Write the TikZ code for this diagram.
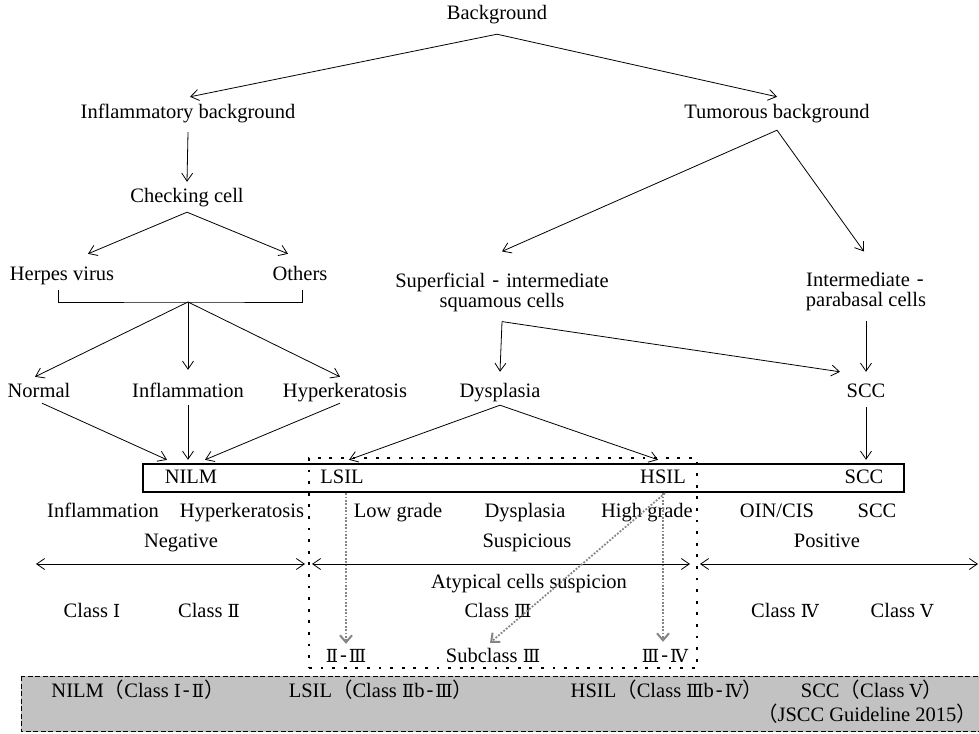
\documentclass[tikz,border=0pt]{standalone}
\usepackage{fontspec}
\setmainfont{Liberation Serif}
\newfontfamily\cjkf{Noto Sans CJK JP}
\newfontfamily\romf{DejaVu Serif}
\usetikzlibrary{arrows.meta,calc}
\newcommand\romI{{\romf\fontsize{18}{20}\selectfont Ⅰ}}
\newcommand\romII{{\romf\fontsize{18}{20}\selectfont Ⅱ}}
\newcommand\romIII{{\romf\fontsize{18}{20}\selectfont Ⅲ}}
\newcommand\romIV{{\romf\fontsize{18}{20}\selectfont Ⅳ}}
\newcommand\romV{{\romf\fontsize{18}{20}\selectfont Ⅴ}}
\newcommand\fwl{{\cjkf （}}
\newcommand\fwr{{\cjkf ）}}
\newcommand\fwd{\kern2pt\raisebox{1pt}{-}\kern2pt}
\begin{document}
\begin{tikzpicture}[x=1pt,y=-1pt,
  font=\fontsize{20.5}{23}\selectfont,
  lbl/.style={inner xsep=1pt, inner ysep=6pt, text height=14pt, text depth=4pt},
  two/.style={inner xsep=1pt, inner ysep=6pt, align=center, font=\fontsize{20.5}{20}\selectfont},
  arr/.style={-{Straight Barb[length=8pt,width=11pt]}, line width=0.8pt},
  darr/.style={{Straight Barb[length=8pt,width=11pt]}-{Straight Barb[length=8pt,width=11pt]}, line width=0.8pt},
  garr/.style={-{Straight Barb[length=7pt,width=12pt,line width=2pt]}, draw=black!48, line width=1.8pt, dash pattern=on 1.8pt off 1.6pt},
  dotbox/.style={draw, line width=2.8pt, dash pattern=on 2.8pt off 8.8pt},
  dashbox/.style={draw, line width=1pt, dash pattern=on 5pt off 2.5pt, fill=black!24},
]
\useasboundingbox (0,0) rectangle (979,733);

% bottom dashed box
\draw[dashbox] (21,676) rectangle (995,731.5);

% dotted box
\node[dotbox, minimum width=388pt, minimum height=210pt, inner sep=0pt] (dbox) at (503,563) {};

% main box
\node[draw, line width=1.2pt, minimum width=761pt, minimum height=28pt, inner sep=0pt] (box) at (523.5,478) {};

% top tree
\node[lbl] (bg) at (497,15) {Background};
\node[lbl] (ib) at (188,113) {Inflammatory background};
\node[lbl] (tb) at (777,113) {Tumorous background};
\node[lbl] (cc) at (187,197) {Checking cell};
\node[lbl] (hv) at (62,275) {Herpes virus};
\node[lbl] (ot) at (300,275) {Others};
\coordinate (jn) at (188,302);
\node[lbl] (nm) at (39,392) {Normal};
\node[lbl] (inf) at (188,392) {Inflammation};
\node[lbl] (hk) at (345,392) {Hyperkeratosis};
\node[two] (sup) at (502,292) {Superficial \fwd{} intermediate\\squamous cells};
\node[two] (int) at (866,292) {Intermediate \fwd\\parabasal cells};
\node[lbl] (dys) at (500,392) {Dysplasia};
\node[lbl] (scc1) at (866,392) {SCC};

% box contents
\node[lbl] (nilm) at (191,478) {NILM};
\node[lbl] (lsil) at (342,478) {LSIL};
\node[lbl] (hsil) at (663,478) {HSIL};
\node[lbl] (scc2) at (864,478) {SCC};

% rows
\node[lbl] (rinf) at (103,512) {Inflammation};
\node[lbl] (rhk) at (242,512) {Hyperkeratosis};
\node[lbl] (rlow) at (398,512) {Low grade};
\node[lbl] (rdys) at (525,512) {Dysplasia};
\node[lbl] (rhigh) at (647,512) {High grade};
\node[lbl] (roin) at (777,512) {OIN/CIS};
\node[lbl] (rscc) at (877,512) {SCC};

\node[lbl] (neg) at (181,542) {Negative};
\node[lbl] (susp) at (527,542) {Suspicious};
\node[lbl] (pos) at (827,542) {Positive};

\coordinate (a1) at (36,564);
\coordinate (a2) at (305,564);
\coordinate (a3) at (312,564);
\coordinate (a4) at (690,564);
\coordinate (a5) at (700,564);
\coordinate (a6) at (978,564);
\draw[darr] (a1) -- (a2);
\draw[darr] (a3) -- (a4);
\draw[darr] (a5) -- (a6);

\node[lbl] (atyp) at (529,583) {Atypical cells suspicion};

\node[lbl] (c1) at (92,612) {Class \romI};
\node[lbl] (c2) at (209,612) {Class \romII};
\node[lbl] (c3) at (498,612) {Class \romIII};
\node[lbl] (c4) at (785,612) {Class \romIV};
\node[lbl] (c5) at (902,612) {Class \romV};

\node[lbl] (s1) at (346,657) {\romII\fwd\romIII};
\node[lbl] (s2) at (493,657) {Subclass \romIII};
\node[lbl] (s3) at (665,657) {\romIII\fwd\romIV};

\node[lbl] (b1) at (138,692) {NILM\fwl Class \romI\fwd\romII\fwr};
\node[lbl] (b2) at (381,692) {LSIL\fwl Class \romII b\fwd\romIII\fwr};
\node[lbl] (b3) at (667,692) {HSIL\fwl Class \romIII b\fwd\romIV\fwr};
\node[lbl] (b4) at (872,692) {SCC\fwl Class \romV\fwr};
\node[lbl] (b5) at (867,716) {\fwl JSCC Guideline 2015\fwr};

% connectors
\draw[arr] ([yshift=-4pt]bg.south) -- ([xshift=2pt,yshift=1pt]ib.north);
\draw[arr] ([yshift=-4pt]bg.south) -- ([yshift=1pt]tb.north);
\draw[arr] ([yshift=-4pt]ib.south) -- (cc.north);
\draw[arr] (cc.south) -- ([xshift=26pt,yshift=6pt]hv.north);
\draw[arr] (cc.south) -- ([xshift=-12pt,yshift=6pt]ot.north);
\draw[line width=0.8pt] ([xshift=-4pt]hv.south) |- (jn) -| ([xshift=2pt]ot.south);
\draw[arr] (jn) -- ([xshift=-4pt]nm.north);
\draw[arr] (jn) -- ([yshift=7pt]inf.north);
\draw[arr] (jn) -- ([xshift=-5pt]hk.north);
\draw[arr] ([xshift=3pt,yshift=4pt]nm.south) -- ([xshift=-24pt,yshift=3pt]nilm.north);
\draw[arr] ([yshift=2pt]inf.south) -- ([xshift=-3pt,yshift=3pt]nilm.north);
\draw[arr] ([xshift=-5pt,yshift=4pt]hk.south) -- ([xshift=14pt,yshift=3pt]nilm.north);

\draw[arr] ([yshift=-2pt]tb.south) -- ([yshift=15pt]sup.north);
\draw[arr] ([yshift=-2pt]tb.south) -- ([xshift=-2pt,yshift=15pt]int.north);
\draw[arr] ([yshift=-4pt]sup.south) -- ([yshift=5pt]dys.north);
\draw[arr] ([yshift=-4pt]sup.south) -- ([xshift=-26pt,yshift=5pt]scc1.north);
\draw[arr] ([yshift=-4pt]int.south) -- ([yshift=5pt]scc1.north);
\draw[arr] (scc1.south) -- ([xshift=2pt,yshift=3pt]scc2.north);
\draw[arr] ([yshift=2pt]dys.south) -- ([xshift=7pt,yshift=3pt]lsil.north);
\draw[arr] ([yshift=2pt]dys.south) -- ([xshift=-5pt,yshift=3pt]hsil.north);

% gray dotted arrows
\draw[garr] (lsil.south -| s1.north) -- ([yshift=-2pt]s1.north);
\draw[garr] (hsil.south) -- (hsil.south |- s3.north);
\draw[garr] ([xshift=2pt]hsil.south) -- ([xshift=-3pt,yshift=-1pt]s2.north);
\end{tikzpicture}
\end{document}
